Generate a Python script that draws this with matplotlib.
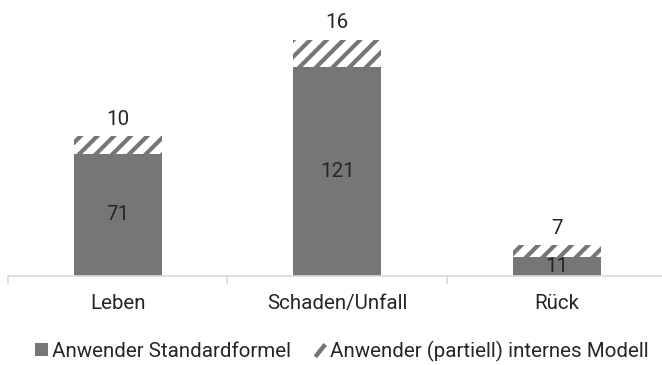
import matplotlib
matplotlib.use("Agg")
import matplotlib.pyplot as plt
from matplotlib.patches import Patch
from matplotlib.lines import Line2D
from matplotlib.legend_handler import HandlerBase

plt.rcParams['font.family'] = ['Roboto', 'DejaVu Sans']
plt.rcParams['hatch.linewidth'] = 3.0
plt.rcParams['hatch.color'] = '#767676'

categories = ["Leben", "Schaden/Unfall", "Rück"]
standardformel = [71, 121, 11]
internes_modell = [10, 16, 7]
series_names = ["Anwender Standardformel", "Anwender (partiell) internes Modell"]

bar_color = '#767676'
text_color = '#262626'
fs = 14.8


class SlashHandler(HandlerBase):
    """Legend key drawn as a single diagonal hatch stroke."""

    def create_artists(self, legend, orig_handle, xdescent, ydescent,
                       width, height, fontsize, trans):
        line = Line2D([-xdescent + width * 0.15, -xdescent + width * 0.95],
                      [-ydescent - height * 0.05, -ydescent + height * 0.9],
                      color=bar_color, linewidth=3.2, solid_capstyle='butt',
                      transform=trans)
        return [line]


fig = plt.figure(figsize=(6.62, 3.65), dpi=100)
ax = fig.add_axes([8 / 662, 1 - 276 / 365, 1 - 8 / 662, (276 - 20) / 365])

x = list(range(len(categories)))
width = 0.40

ax.bar(x, standardformel, width, color=bar_color, edgecolor='none', zorder=2)
ax.bar(x, internes_modell, width, bottom=standardformel, color='white',
       edgecolor=bar_color, linewidth=0, hatch='//', zorder=2)

for xi, v in zip(x, standardformel):
    ax.text(xi, v / 2, str(v), ha='center', va='center', fontsize=fs, color=text_color)
for xi, base, v in zip(x, standardformel, internes_modell):
    ax.text(xi, base + v + 4.3, str(v), ha='center', va='bottom', fontsize=fs, color=text_color)

ax.set_xlim(-0.5, 2.48)
ax.set_ylim(0, 148.5)
ax.set_yticks([])
for s in ['top', 'right', 'left']:
    ax.spines[s].set_visible(False)
ax.spines['bottom'].set_color('#d9d9d9')
ax.spines['bottom'].set_linewidth(1.2)

ax.set_xticks(x)
ax.set_xticklabels(categories, fontsize=fs, color=text_color)
ax.tick_params(axis='x', length=0, pad=13)
# separators between the categories
ax.set_xticks([-0.5, 0.5, 1.5], minor=True)
ax.tick_params(axis='x', which='minor', length=6, color='#d9d9d9', width=1.2)

handles = [Patch(facecolor=bar_color, edgecolor='none'),
           Patch(facecolor='white', edgecolor=bar_color)]
fig.legend(handles, series_names, loc='center', bbox_to_anchor=(342 / 662, 1 - 351 / 365),
           ncol=2, frameon=False, fontsize=fs, handlelength=0.6, handleheight=0.6,
           handletextpad=0.2, columnspacing=1.1, labelcolor=text_color,
           borderpad=0, borderaxespad=0,
           handler_map={handles[1]: SlashHandler()})

fig.savefig("out.png", dpi=100)
